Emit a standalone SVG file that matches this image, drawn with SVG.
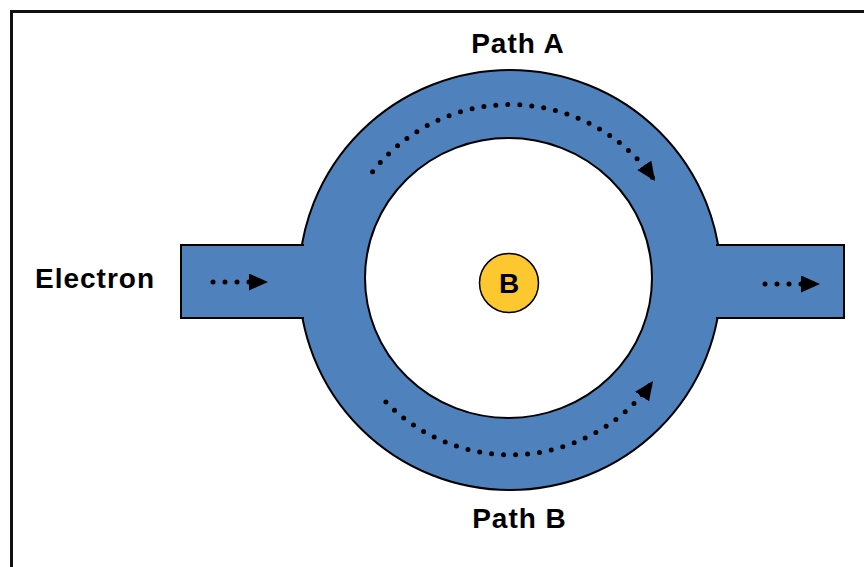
<svg xmlns="http://www.w3.org/2000/svg" width="864" height="567" viewBox="0 0 864 567">
<style>
.lbl{font-family:"Liberation Sans",Arial,sans-serif;font-weight:bold;font-size:28px;fill:#000;letter-spacing:1px}
.blue{fill:#4f81bd}
.edge{stroke:#000;stroke-width:2}
.dots{fill:none;stroke:#000;stroke-width:5;stroke-linecap:round;stroke-dasharray:0 12}
</style>
<defs>
<marker id="ah" markerUnits="userSpaceOnUse" markerWidth="22" markerHeight="18" refX="19" refY="8.5" orient="auto">
<path d="M0,0 L19,8.5 L0,17 z" fill="#000"/>
</marker>
</defs>
<rect width="864" height="567" fill="#fff"/>
<rect id="frame" x="11.5" y="11.5" width="900" height="600" fill="none" stroke="#111" stroke-width="3"/>
<g id="ring">
<ellipse class="blue edge" cx="510" cy="280" rx="211" ry="210"/>
</g>
<g id="left-arm">
<path class="blue edge" d="M304,245 H181 V318 H304"/>
<rect class="blue" x="296" y="246" width="26" height="71"/>
</g>
<g id="right-arm">
<path class="blue edge" d="M716,245 H844 V318 H716"/>
<rect class="blue" x="698" y="246" width="26" height="71"/>
</g>
<g id="hole">
<ellipse cx="508.5" cy="278" rx="143.5" ry="140" fill="#fff" stroke="#000" stroke-width="2"/>
</g>
<g id="field-B">
<circle cx="509" cy="283" r="29.5" fill="#fdc72f" stroke="#000" stroke-width="1.5"/>
<text class="lbl" x="509" y="293" text-anchor="middle" style="letter-spacing:0">B</text>
</g>
<g id="connectors">
<path class="dots" d="M213,282 H268" marker-end="url(#ah)"/>
<path class="dots" d="M765,284 H820" marker-end="url(#ah)"/>
<path class="dots" d="M372.6,171.7 A175,175 0 0 1 655,181" marker-end="url(#ah)"/>
<path class="dots" d="M385.9,402 A174,174 0 0 0 653,381" marker-end="url(#ah)"/>
</g>
<g id="labels">
<text class="lbl" x="518" y="53" text-anchor="middle">Path A</text>
<text class="lbl" x="519.5" y="528" text-anchor="middle">Path B</text>
<text class="lbl" x="35" y="288">Electron</text>
</g>
</svg>
